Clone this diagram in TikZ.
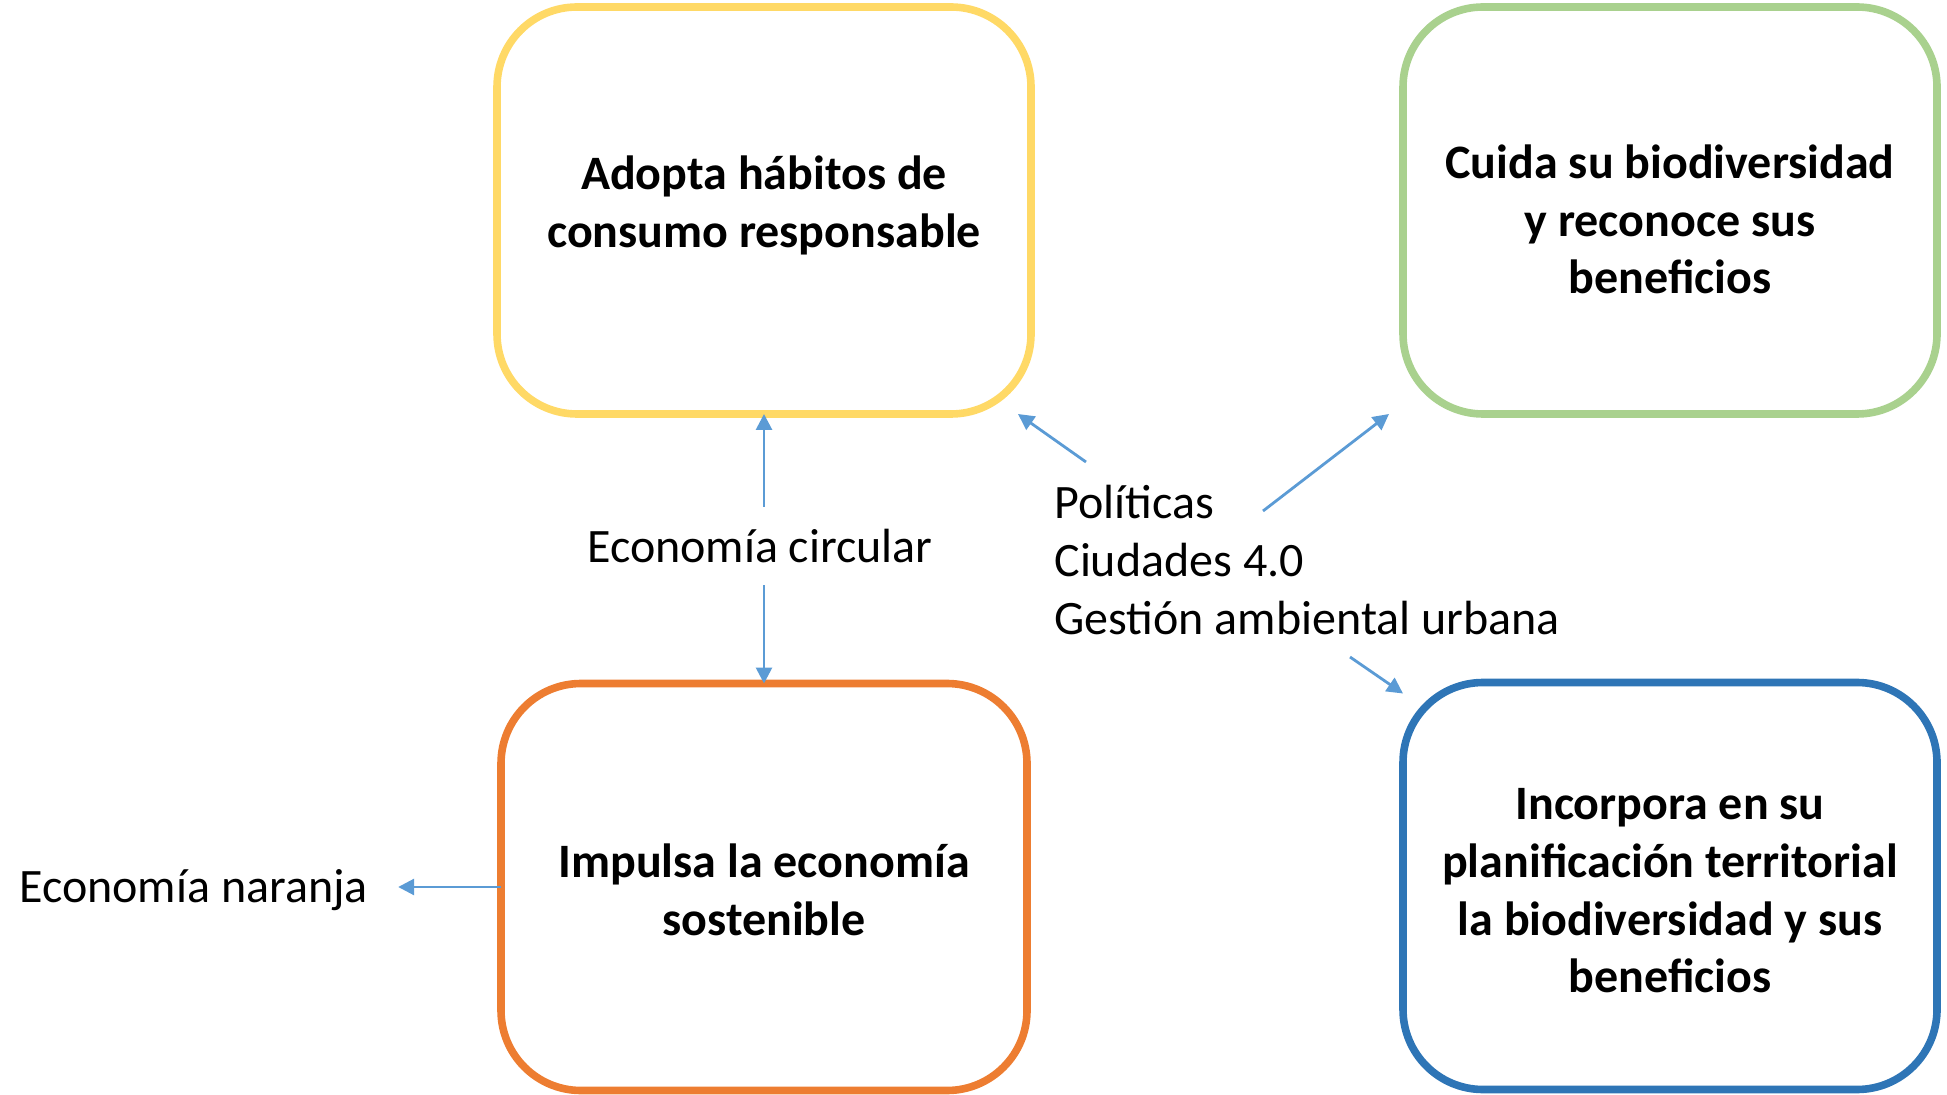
\documentclass[tikz,border=0pt]{standalone}
\usepackage{fontspec}
\setmainfont{Carlito}
\usetikzlibrary{arrows.meta,positioning}

\definecolor{goldline}{HTML}{FFD966}
\definecolor{greenline}{HTML}{A9D18E}
\definecolor{orangeline}{HTML}{ED7D31}
\definecolor{blueline}{HTML}{2E75B6}
\definecolor{linkblue}{HTML}{5B9BD5}

\tikzset{
  goal/.style={draw, line width=3.8pt, rounded corners=40pt, outer sep=0pt,
    minimum width=267pt, minimum height=203.5pt, inner sep=0pt},
  goaltext/.style={align=center, inner sep=0pt,
    font=\fontsize{24}{28.8}\selectfont\bfseries},
  tag/.style={inner sep=0pt, align=left,
    font=\fontsize{24}{28.8}\selectfont},
  link/.style={draw=linkblue, line width=1.4pt,
    -{Triangle[length=8pt,width=8pt]}}
}

\begin{document}
\begin{tikzpicture}[x=0.5pt, y=-0.5pt]

  \useasboundingbox (0,0) rectangle (1947,1095);

  % the four goals
  \node[goal, draw=goldline]   (consumo)   at (764,210.5) {};
  \node[goal, draw=greenline]  (cuida)     at (1670,210.5) {};
  \node[goal, draw=orangeline, minimum width=263pt] (impulsa) at (764,887) {};
  \node[goal, draw=blueline]   (incorpora) at (1670,886) {};

  \node[goaltext, yshift=2.5pt]  (consumo-txt) at (consumo)
    {Adopta hábitos de\\consumo responsable};
  \node[goaltext, yshift=-4.5pt] (cuida-txt) at (cuida)
    {Cuida su biodiversidad\\y reconoce sus\\beneficios};
  \node[goaltext, yshift=-1.5pt] (impulsa-txt) at (impulsa)
    {Impulsa la economía\\sostenible};
  \node[goaltext, yshift=-2.5pt] (incorpora-txt) at (incorpora)
    {Incorpora en su\\planificación territorial\\la biodiversidad y sus\\beneficios};

  % labels
  \node[tag, inner ysep=11pt] (circular) at (760,546) {Economía circular};
  \node[tag, anchor=west] (naranja) at (19,890) {Economía naranja};
  \node[tag, anchor=west] (politicas) at (1054,560)
    {Políticas\\Ciudades 4.0\\Gestión ambiental urbana};

  % free ends round the policy block
  \coordinate (polA) at (1086,462);
  \coordinate (polB) at (1263,511);
  \coordinate (polC) at (1350,657);
  \coordinate (tipA) at ([shift={(-13,0)}]consumo.south east);
  \coordinate (tipB) at ([shift={(-14,0)}]cuida.south west);
  \coordinate (tipC) at ([shift={(0,11)}]incorpora.north west);

  % links
  \draw[link] (circular.north -| consumo.south) -- (consumo.south);
  \draw[link] (circular.south -| impulsa.north) -- (impulsa.north);
  \draw[link, shorten >=15pt] (impulsa.west) -- (impulsa.west -| naranja.east);
  \draw[link] (polA) -- (tipA);
  \draw[link] (polB) -- (tipB);
  \draw[link] (polC) -- (tipC);

\end{tikzpicture}
\end{document}
